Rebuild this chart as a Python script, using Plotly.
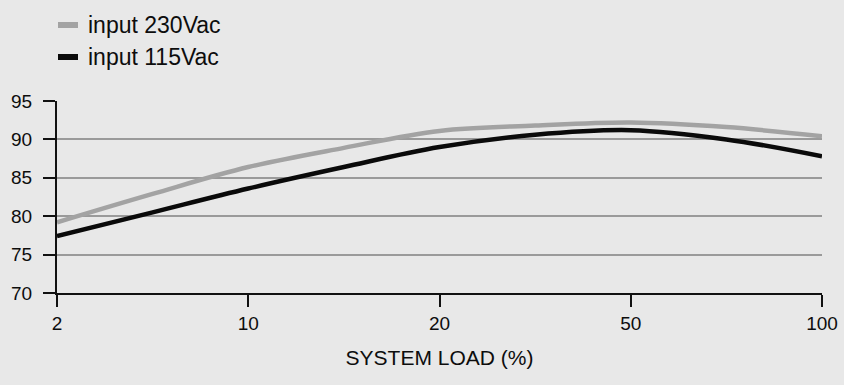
import plotly.graph_objects as go

tick_labels = ["2", "10", "20", "50", "100"]
tick_pos = [0, 1, 2, 3, 4]
x_pts = [0, 0.5, 1, 1.5, 2, 2.5, 3, 3.5, 4]
y_230 = [79.2, 82.9, 86.4, 88.9, 91.1, 91.8, 92.2, 91.6, 90.4]
y_115 = [77.4, 80.5, 83.6, 86.4, 89.0, 90.6, 91.2, 90.0, 87.8]
series_names = ["input 230Vac", "input 115Vac"]
series_colors = ["#a3a3a3", "#0a0a0a"]

font = "Liberation Sans, Arial, Helvetica, sans-serif"
bg = "#e8e8e8"

W, H = 844, 385
L, R, T, B = 57, 22, 101, 92
pw, ph = W - L - R, H - T - B

def px_x(px):
    return (px - L) / pw

def px_y(py):
    return (H - B - py) / ph

fig = go.Figure()
for name, ys, col in zip(series_names, [y_230, y_115], series_colors):
    fig.add_trace(go.Scatter(x=x_pts, y=ys, mode="lines", name=name,
                             line=dict(color=col, width=4.5, shape="spline", smoothing=1.0)))

# manual legend
shapes = []
annotations = []
for i, (name, col) in enumerate(zip(series_names, series_colors)):
    yy = px_y(25 + 32 * i)
    shapes.append(dict(type="line", xref="paper", yref="paper",
                       x0=px_x(58), x1=px_x(78), y0=yy, y1=yy,
                       line=dict(color=col, width=6)))
    annotations.append(dict(xref="paper", yref="paper", x=px_x(86), y=yy,
                            xanchor="left", yanchor="middle", text=name, showarrow=False,
                            font=dict(size=23, color="#0d0d0d")))

fig.update_layout(
    width=W, height=H,
    paper_bgcolor=bg, plot_bgcolor=bg,
    margin=dict(l=L, r=R, t=T, b=B),
    font=dict(family=font, size=19, color="#0d0d0d"),
    showlegend=False,
    shapes=shapes, annotations=annotations,
    xaxis=dict(range=[0, 4], tickvals=tick_pos, ticktext=tick_labels, automargin=False,
               showgrid=False, zeroline=False, showline=True, linecolor="#111111", linewidth=2,
               ticks="outside", ticklen=12, tickwidth=2, tickcolor="#111111",
               title=dict(text="SYSTEM LOAD (%)", standoff=18, font=dict(size=21))),
    yaxis=dict(range=[70, 95], tickvals=[70, 75, 80, 85, 90, 95], automargin=False,
               showgrid=True, gridcolor="#9a9a9a", gridwidth=1.5, zeroline=False,
               showline=True, linecolor="#111111", linewidth=2,
               ticks="outside", ticklen=12, tickwidth=2, tickcolor="#111111",
               ticklabelstandoff=7),
)
fig.write_html("out.html", config={"displayModeBar": False},
               post_script="document.body.style.margin='0';document.body.style.background='%s';" % bg)
